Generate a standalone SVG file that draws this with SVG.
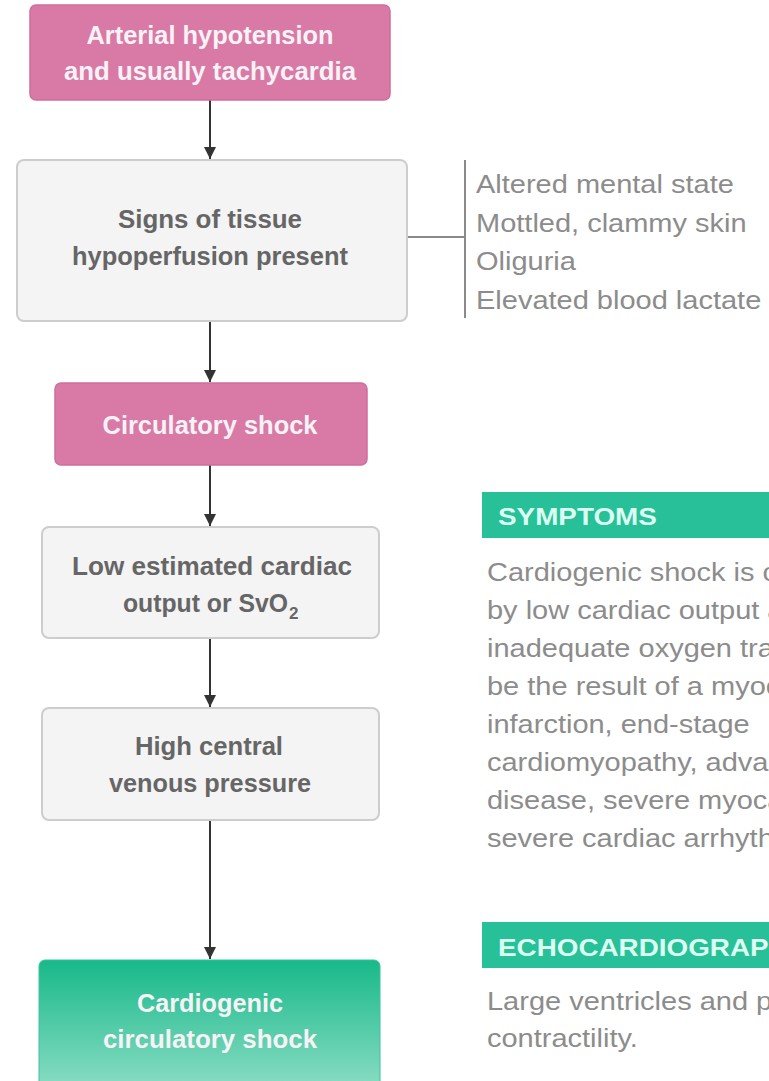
<svg xmlns="http://www.w3.org/2000/svg" width="769" height="1081" viewBox="0 0 769 1081">
<style>
.pink{fill:#d97aa6;stroke:#cf6e9b;stroke-width:1.5}
.grey{fill:#f4f4f4;stroke:#cdcdcd;stroke-width:2}
.green{fill:url(#gg);stroke:#3cc39c;stroke-width:1}
.bt{font-family:"Liberation Sans",Arial,sans-serif;font-weight:bold;font-size:25px;text-anchor:middle}
.wt{fill:#f7f2f6}
.gt{fill:#666666}
.conn{stroke:#333;stroke-width:2;fill:none}
.side{stroke:#8a8a8a;stroke-width:2;fill:none}
.lt{font-family:"Liberation Sans",Arial,sans-serif;font-size:25px;fill:#8c8c8c}
.hd{font-family:"Liberation Sans",Arial,sans-serif;font-weight:bold;font-size:24px;fill:#dcfff2}
.hbar{fill:#27c099}
</style>
<defs>
<linearGradient id="gg" x1="0" y1="0" x2="0" y2="1">
<stop offset="0" stop-color="#17b98a"/>
<stop offset="1" stop-color="#90dec6"/>
</linearGradient>
<marker id="ah" viewBox="0 0 12 12" refX="12" refY="6" markerWidth="12" markerHeight="12" markerUnits="userSpaceOnUse" orient="auto">
<path d="M0,0 L12,6 L0,12 Z" fill="#333"/>
</marker>
</defs>
<rect width="769" height="1081" fill="#ffffff"/>

<g id="connectors">
<line class="conn" x1="210" y1="100" x2="210" y2="159" marker-end="url(#ah)"/>
<line class="conn" x1="210" y1="321" x2="210" y2="382" marker-end="url(#ah)"/>
<line class="conn" x1="210" y1="465" x2="210" y2="526" marker-end="url(#ah)"/>
<line class="conn" x1="210" y1="638" x2="210" y2="707" marker-end="url(#ah)"/>
<line class="conn" x1="210" y1="820" x2="210" y2="959" marker-end="url(#ah)"/>
<line class="side" x1="407" y1="237" x2="465" y2="237"/>
<line class="side" x1="465" y1="160" x2="465" y2="318"/>
</g>

<g id="n1">
<rect class="pink" x="30" y="5" width="360" height="95" rx="6"/>
<text class="bt wt" x="210" y="44" textLength="247" lengthAdjust="spacingAndGlyphs">Arterial hypotension</text>
<text class="bt wt" x="210" y="80" textLength="292" lengthAdjust="spacingAndGlyphs">and usually tachycardia</text>
</g>

<g id="n2">
<rect class="grey" x="17" y="160" width="390" height="161" rx="7"/>
<text class="bt gt" x="210" y="228" textLength="184" lengthAdjust="spacingAndGlyphs">Signs of tissue</text>
<text class="bt gt" x="210" y="265" textLength="276" lengthAdjust="spacingAndGlyphs">hypoperfusion present</text>
</g>

<g id="n2-list">
<text class="lt" transform="translate(476,193) scale(1.16,1)">Altered mental state</text>
<text class="lt" transform="translate(476,232) scale(1.16,1)">Mottled, clammy skin</text>
<text class="lt" transform="translate(476,270) scale(1.16,1)">Oliguria</text>
<text class="lt" transform="translate(476,309) scale(1.16,1)">Elevated blood lactate</text>
</g>

<g id="n3">
<rect class="pink" x="55" y="383" width="312" height="82" rx="6"/>
<text class="bt wt" x="210" y="434" textLength="215" lengthAdjust="spacingAndGlyphs">Circulatory shock</text>
</g>

<g id="n4">
<rect class="grey" x="42" y="527" width="337" height="111" rx="7"/>
<text class="bt gt" x="212" y="575" textLength="280" lengthAdjust="spacingAndGlyphs">Low estimated cardiac</text>
<text class="bt gt" x="123" y="612" style="text-anchor:start" textLength="165" lengthAdjust="spacingAndGlyphs">output or SvO</text>
<text class="bt gt" x="289" y="619" style="text-anchor:start;font-size:17px">2</text>
</g>

<g id="n5">
<rect class="grey" x="42" y="708" width="337" height="112" rx="7"/>
<text class="bt gt" x="209" y="755" textLength="148" lengthAdjust="spacingAndGlyphs">High central</text>
<text class="bt gt" x="210" y="792" textLength="202" lengthAdjust="spacingAndGlyphs">venous pressure</text>
</g>

<g id="n6">
<rect class="green" x="39" y="960" width="341" height="135" rx="6"/>
<text class="bt wt" x="210" y="1012" textLength="146" lengthAdjust="spacingAndGlyphs">Cardiogenic</text>
<text class="bt wt" x="210" y="1048" textLength="214" lengthAdjust="spacingAndGlyphs">circulatory shock</text>
</g>

<g id="symptoms">
<rect class="hbar" x="482" y="492" width="300" height="46"/>
<text class="hd" transform="translate(498,525) scale(1.16,1)">SYMPTOMS</text>
<text class="lt" transform="translate(487,581) scale(1.16,1)">Cardiogenic shock is c</text>
<text class="lt" transform="translate(487,619) scale(1.16,1)">by low cardiac output a</text>
<text class="lt" transform="translate(487,657) scale(1.16,1)">inadequate oxygen tra</text>
<text class="lt" transform="translate(487,695) scale(1.16,1)">be the result of a myoc</text>
<text class="lt" transform="translate(487,733) scale(1.16,1)">infarction, end-stage</text>
<text class="lt" transform="translate(487,771) scale(1.16,1)">cardiomyopathy, advan</text>
<text class="lt" transform="translate(487,809) scale(1.16,1)">disease, severe myoca</text>
<text class="lt" transform="translate(487,847) scale(1.16,1)">severe cardiac arrhyth</text>
</g>

<g id="echo">
<rect class="hbar" x="482" y="922" width="300" height="46"/>
<text class="hd" transform="translate(498,956) scale(1.16,1)">ECHOCARDIOGRAP</text>
<text class="lt" transform="translate(487,1010) scale(1.16,1)">Large ventricles and p</text>
<text class="lt" transform="translate(487,1047) scale(1.16,1)">contractility.</text>
</g>
</svg>
